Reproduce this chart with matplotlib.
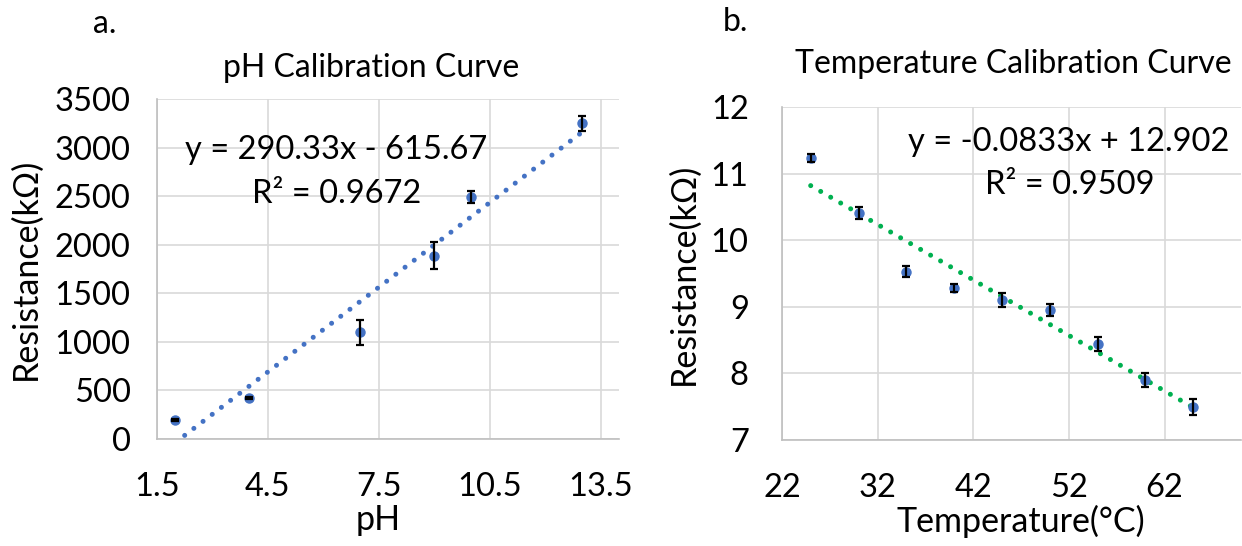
import matplotlib
matplotlib.use("Agg")
import matplotlib.pyplot as plt
import numpy as np

plt.rcParams['font.family'] = ['Lato', 'DejaVu Sans']

# ---- data: pH calibration ----
ph = [2, 4, 7, 9, 10, 13]
ph_res = [200, 420, 1100, 1885, 2490, 3250]
ph_err = [10, 10, 130, 140, 65, 80]
ph_slope, ph_icpt = 290.33, -615.67
ph_fit_range = [2, 13]
ph_xticks = [1.5, 4.5, 7.5, 10.5, 13.5]
ph_yticks = [0, 500, 1000, 1500, 2000, 2500, 3000, 3500]

# ---- data: temperature calibration ----
temp = [25, 30, 35, 40, 45, 50, 55, 60, 65]
temp_res = [11.23, 10.41, 9.53, 9.28, 9.10, 8.95, 8.44, 7.90, 7.50]
temp_err = [0.06, 0.09, 0.08, 0.06, 0.11, 0.09, 0.10, 0.11, 0.12]
t_slope, t_icpt = -0.0833, 12.902
t_fit_range = [25, 65]
t_xticks = [22, 32, 42, 52, 62]
t_yticks = [7, 8, 9, 10, 11, 12]

BLUE = '#4472C4'
GREEN = '#00B050'
GRID = '#D9D9D9'
SPINE = '#BFBFBF'
TXT = '#000000'

W, H = 1242, 546
fig = plt.figure(figsize=(W / 100, H / 100), dpi=100)

def px_axes(x0, x1, ytop, ybot):
    return fig.add_axes([x0 / W, (H - ybot) / H, (x1 - x0) / W, (ybot - ytop) / H])

ax1 = px_axes(157, 619, 99, 439)
ax2 = px_axes(782, 1241, 107, 440)

TICK_FS = 23.5
LABEL_FS = 24.5
TITLE_FS = 23
EQ_FS = 23.5

def style(ax, xticks, yticks, xlim, ylim, ypad, xpad):
    ax.set_xlim(*xlim)
    ax.set_ylim(*ylim)
    ax.set_xticks(xticks)
    ax.set_yticks(yticks)
    ax.grid(True, color=GRID, linewidth=1.2, zorder=0)
    ax.set_axisbelow(True)
    for s in ['top', 'right']:
        ax.spines[s].set_visible(False)
    for s in ['left', 'bottom']:
        ax.spines[s].set_color(SPINE)
        ax.spines[s].set_linewidth(1.2)
    ax.tick_params(axis='both', length=0, labelsize=TICK_FS, colors=TXT)
    ax.tick_params(axis='y', pad=ypad)
    ax.tick_params(axis='x', pad=xpad)

style(ax1, ph_xticks, ph_yticks, (1.5, 14), (0, 3500), 19, 24)
ax1.set_xticklabels([f'{v:g}' for v in ph_xticks])
style(ax2, t_xticks, t_yticks, (22, 70), (7, 12), 24, 24)

dot = dict(linestyle=(0, (0.01, 2.3)), dash_capstyle='round', linewidth=3.6)

# trend lines
fx = np.array(ph_fit_range, dtype=float)
ax1.plot(fx, ph_slope * fx + ph_icpt, color=BLUE, zorder=2, **dot)
tx = np.array(t_fit_range, dtype=float)
ax2.plot(tx, t_slope * tx + t_icpt, color=GREEN, zorder=2, **dot)

# markers + error bars
for ax, x, y, e in [(ax1, ph, ph_res, ph_err), (ax2, temp, temp_res, temp_err)]:
    ax.plot(x, y, 'o', color=BLUE, markersize=6.5, zorder=3, linestyle='none')
    ax.errorbar(x, y, yerr=e, fmt='none', ecolor='black', elinewidth=1.6,
                capsize=2.6, capthick=1.6, zorder=4)

# equations
ax1.text(6.34, 2975, 'y = 290.33x - 615.67', ha='center', va='center', fontsize=EQ_FS, color=TXT)
ax1.text(6.36, 2520, 'R² = 0.9672', ha='center', va='center', fontsize=EQ_FS, color=TXT)
ax2.text(52.0, 11.48, 'y = -0.0833x + 12.902', ha='center', va='center', fontsize=EQ_FS, color=TXT)
ax2.text(52.1, 10.83, 'R² = 0.9509', ha='center', va='center', fontsize=EQ_FS, color=TXT)

# axis labels
ax1.set_ylabel('Resistance(kΩ)', fontsize=LABEL_FS, color=TXT)
ax1.yaxis.set_label_coords(-0.25, 0.5)
ax1.set_xlabel('pH', fontsize=LABEL_FS, color=TXT)
ax1.xaxis.set_label_coords(0.478, -0.19)
ax2.set_ylabel('Resistance(kΩ)', fontsize=LABEL_FS, color=TXT)
ax2.yaxis.set_label_coords(-0.18, 0.5)
ax2.set_xlabel('Temperature(°C)', fontsize=LABEL_FS, color=TXT)
ax2.xaxis.set_label_coords(0.52, -0.195)

# titles and panel letters
fig.text(371 / W, 1 - 68 / H, 'pH Calibration Curve', ha='center', va='center', fontsize=TITLE_FS, color=TXT)
fig.text(1013 / W, 1 - 64 / H, 'Temperature Calibration Curve', ha='center', va='center', fontsize=TITLE_FS, color=TXT)
fig.text(105 / W, 1 - 24 / H, 'a.', ha='center', va='center', fontsize=TITLE_FS, color=TXT)
fig.text(735 / W, 1 - 22 / H, 'b.', ha='center', va='center', fontsize=TITLE_FS, color=TXT)

fig.savefig('out.png', dpi=100, facecolor='white')
